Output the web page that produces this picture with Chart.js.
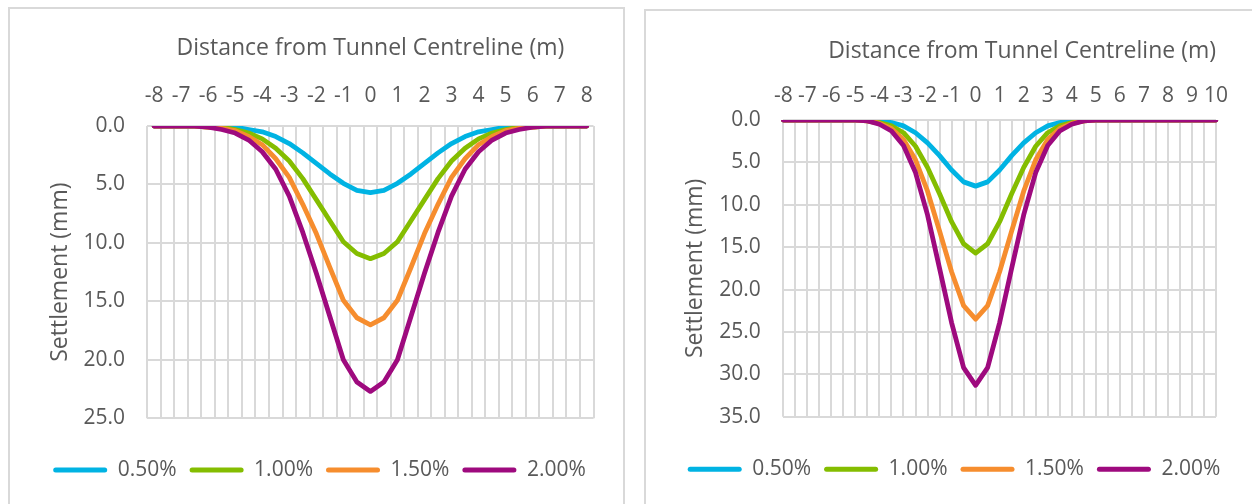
<!DOCTYPE html>
<html>
<head>
<meta charset="utf-8">
<title>Settlement troughs</title>
<script src="https://cdn.jsdelivr.net/npm/chart.js@4.4.1/dist/chart.umd.min.js"></script>
<style>
  html, body { margin: 0; padding: 0; background: #ffffff; width: 1252px; height: 504px; overflow: hidden; }
  .panel { position: absolute; box-sizing: border-box; border: 2px solid #d9d9d9; background: #ffffff; }
  #panelA { left: 8px; top: 7px; width: 617px; height: 560px; }
  #panelB { left: 644px; top: 9px; width: 700px; height: 560px; }
  canvas { position: absolute; }
  #chartA { left: 10px; top: 9px; }
  #chartB { left: 647px; top: 11px; }
</style>
</head>
<body>
<div class="panel" id="panelA"></div>
<div class="panel" id="panelB"></div>
<canvas id="chartA" width="612" height="495"></canvas>
<canvas id="chartB" width="613" height="493"></canvas>
<script>
// Offsets from the tunnel centreline (m), one category every 0.5 m
const distanceA = [-8, -7.5, -7, -6.5, -6, -5.5, -5, -4.5, -4, -3.5, -3, -2.5, -2, -1.5, -1, -0.5, 0,
                   0.5, 1, 1.5, 2, 2.5, 3, 3.5, 4, 4.5, 5, 5.5, 6, 6.5, 7, 7.5, 8];
const distanceB = [-8, -7.5, -7, -6.5, -6, -5.5, -5, -4.5, -4, -3.5, -3, -2.5, -2, -1.5, -1, -0.5, 0,
                   0.5, 1, 1.5, 2, 2.5, 3, 3.5, 4, 4.5, 5, 5.5, 6, 6.5, 7, 7.5, 8, 8.5, 9, 9.5, 10];

// Volume loss cases shown in the legend
const lossLabels = ['0.50%', '1.00%', '1.50%', '2.00%'];
const lossColors = ['#00b3e3', '#84bd00', '#f68d2e', '#9e0a7e'];

// Settlement (mm), left-hand chart
const settleA_050 = [0.0, 0.0, 0.0, 0.0, 0.0, 0.1, 0.1, 0.3, 0.5, 0.9, 1.5, 2.3, 3.2, 4.1, 4.9, 5.5, 5.7,
                     5.5, 4.9, 4.1, 3.2, 2.3, 1.5, 0.9, 0.5, 0.3, 0.1, 0.1, 0.0, 0.0, 0.0, 0.0, 0.0];
const settleA_100 = [0.0, 0.0, 0.0, 0.0, 0.1, 0.1, 0.3, 0.6, 1.1, 1.9, 3.0, 4.5, 6.3, 8.1, 9.9, 10.9, 11.35,
                     10.9, 9.9, 8.1, 6.3, 4.5, 3.0, 1.9, 1.1, 0.6, 0.3, 0.1, 0.1, 0.0, 0.0, 0.0, 0.0];
const settleA_150 = [0.0, 0.0, 0.0, 0.0, 0.1, 0.2, 0.4, 0.9, 1.6, 2.8, 4.4, 6.7, 9.2, 12.1, 14.9, 16.4, 17.0,
                     16.4, 14.9, 12.1, 9.2, 6.7, 4.4, 2.8, 1.6, 0.9, 0.4, 0.2, 0.1, 0.0, 0.0, 0.0, 0.0];
const settleA_200 = [0.0, 0.0, 0.0, 0.0, 0.1, 0.3, 0.6, 1.2, 2.2, 3.7, 6.0, 9.1, 12.6, 16.3, 20.0, 21.9, 22.7,
                     21.9, 20.0, 16.3, 12.6, 9.1, 6.0, 3.7, 2.2, 1.2, 0.6, 0.3, 0.1, 0.0, 0.0, 0.0, 0.0];

// Settlement (mm), right-hand chart
const settleB_050 = [0, 0, 0, 0, 0, 0, 0, 0.0, 0.1, 0.3, 0.7, 1.5, 2.7, 4.2, 5.9, 7.3, 7.8,
                     7.3, 5.9, 4.2, 2.7, 1.5, 0.7, 0.3, 0.1, 0.0, 0, 0, 0, 0, 0, 0, 0, 0, 0, 0, 0];
const settleB_100 = [0, 0, 0, 0, 0, 0, 0, 0.1, 0.3, 0.7, 1.5, 3.1, 5.6, 8.7, 12.0, 14.6, 15.7,
                     14.6, 12.0, 8.7, 5.6, 3.1, 1.5, 0.7, 0.3, 0.1, 0, 0, 0, 0, 0, 0, 0, 0, 0, 0, 0];
const settleB_150 = [0, 0, 0, 0, 0, 0, 0, 0.1, 0.4, 1.0, 2.3, 4.7, 8.4, 13.1, 17.9, 21.9, 23.5,
                     21.9, 17.9, 13.1, 8.4, 4.7, 2.3, 1.0, 0.4, 0.1, 0, 0, 0, 0, 0, 0, 0, 0, 0, 0, 0];
const settleB_200 = [0, 0, 0, 0, 0, 0, 0, 0.1, 0.5, 1.3, 3.0, 6.2, 11.2, 17.5, 23.9, 29.2, 31.3,
                     29.2, 23.9, 17.5, 11.2, 6.2, 3.0, 1.3, 0.5, 0.1, 0, 0, 0, 0, 0, 0, 0, 0, 0, 0, 0];

// Axis tick values
const yTicksA = [0, 5, 10, 15, 20, 25];
const yTicksB = [0, 5, 10, 15, 20, 25, 30, 35];

const TEXT = '#595959';
const GRID = '#d9d9d9';
const FAMILY = "'Open Sans', sans-serif";
Chart.defaults.font.family = FAMILY;
Chart.defaults.color = TEXT;

function buildChart(canvas, labels, series, yTicks, geo) {
  const datasets = series.map((data, i) => ({
    label: lossLabels[i],
    data: data,
    borderColor: lossColors[i],
    backgroundColor: lossColors[i],
    borderWidth: 4.8,
    pointRadius: 0,
    pointHoverRadius: 0,
    tension: 0,
    fill: false,
    borderJoinStyle: 'round',
    borderCapStyle: 'round',
    order: series.length - 1 - i   // larger volume loss drawn on top
  }));

  return new Chart(canvas, {
    type: 'line',
    data: { labels: labels, datasets: datasets },
    options: {
      responsive: false,
      animation: false,
      events: [],
      layout: { padding: geo.padding },
      scales: {
        x: {
          type: 'category',
          position: 'top',
          offset: geo.offset,
          grid: { offset: geo.offset, color: GRID, lineWidth: 2, drawTicks: false },
          border: { display: false },
          ticks: {
            autoSkip: false, maxRotation: 0, minRotation: 0,
            padding: geo.xTickPad, color: TEXT,
            font: { family: FAMILY, size: 21 },
            callback: function (v) {
              const d = this.getLabelForValue(v);
              return Number.isInteger(d) ? String(d) : '';
            }
          },
          title: {
            display: true, text: 'Distance from Tunnel Centreline (m)', color: TEXT,
            align: geo.xTitleAlign,
            font: { family: FAMILY, size: 23, lineHeight: 1.2 },
            padding: { top: geo.xTitlePad, bottom: 0 }
          },
          afterFit: (s) => { s.height = geo.xAxisH; }
        },
        y: {
          reverse: true,
          min: yTicks[0],
          max: yTicks[yTicks.length - 1],
          afterBuildTicks: (s) => { s.ticks = yTicks.map(v => ({ value: v })); },
          grid: { color: GRID, lineWidth: 2, drawTicks: false },
          border: { display: false },
          ticks: {
            padding: geo.yTickPad, color: TEXT,
            font: { family: FAMILY, size: 21 },
            callback: (v) => Number(v).toFixed(1)
          },
          title: {
            display: true, text: 'Settlement (mm)', color: TEXT,
            font: { family: FAMILY, size: 23, lineHeight: 1.2 },
            padding: { top: geo.yTitlePad, bottom: 0 }
          },
          afterFit: (s) => { s.width = geo.yAxisW; }
        },
        // empty right-hand margin of the plot, kept free of marks
        yMargin: {
          type: 'linear',
          position: 'right',
          display: true,
          grid: { display: false },
          border: { display: false },
          ticks: { display: false },
          afterFit: (s) => { s.width = geo.rightW; }
        }
      },
      plugins: {
        tooltip: { enabled: false },
        legend: {
          position: 'bottom',
          title: { display: true, text: '', font: { size: 12, lineHeight: 1.2 }, padding: { top: 0, bottom: geo.legendGap } },
          labels: {
            boxWidth: 54,
            boxHeight: 5,
            useBorderRadius: true,
            borderRadius: 2.5,
            padding: 13,
            color: TEXT,
            font: { family: FAMILY, size: 21 },
            sort: (a, b) => a.datasetIndex - b.datasetIndex,
            generateLabels: (chart) => {
              const items = Chart.defaults.plugins.legend.labels.generateLabels(chart);
              items.forEach(it => { it.fillStyle = it.strokeStyle; it.lineWidth = 0; });
              return items;
            }
          }
        }
      }
    }
  });
}

buildChart(document.getElementById('chartA'), distanceA,
  [settleA_050, settleA_100, settleA_150, settleA_200], yTicksA,
  { offset: true, padding: { left: 7, top: 0, right: 0, bottom: 13.5 },
    xAxisH: 117, xTickPad: 17.4, xTitlePad: 25.2, xTitleAlign: 'center',
    yAxisW: 130.3, rightW: 28.5, yTickPad: 22.3, yTitlePad: 29.2, legendGap: 13.8 });

buildChart(document.getElementById('chartB'), distanceB,
  [settleB_050, settleB_100, settleB_150, settleB_200], yTicksB,
  { offset: false, padding: { left: 1, top: 0, right: 0, bottom: 14.2 },
    xAxisH: 109, xTickPad: 11.4, xTitlePad: 26.2, xTitleAlign: 'end',
    yAxisW: 135.3, rightW: 44, yTickPad: 22.6, yTitlePad: 33.2, legendGap: 14.7 });
</script>
</body>
</html>
